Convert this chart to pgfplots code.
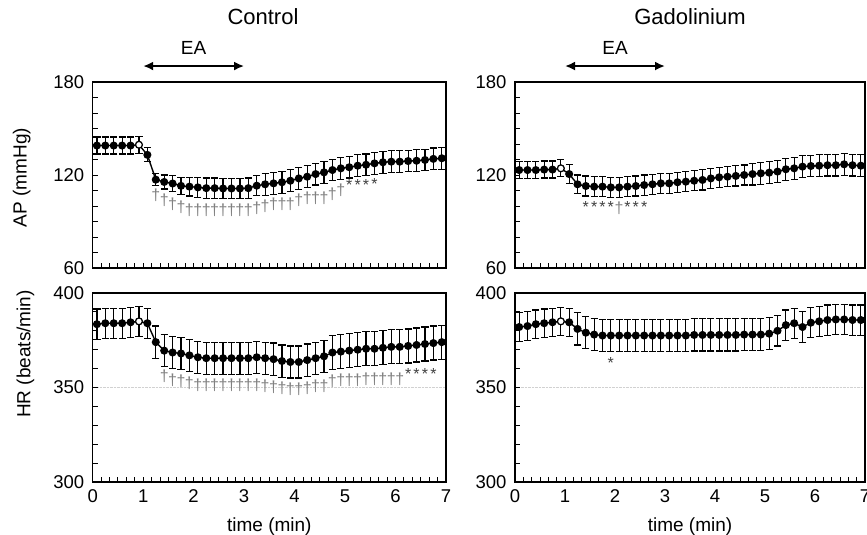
\documentclass[border=0pt]{standalone}
\usepackage{fontspec}
\setmainfont{Liberation Sans}
\usepackage{pgfplots}
\pgfplotsset{compat=1.18}
\usepackage{pgfplotstable}
\usetikzlibrary{arrows.meta}

\newcommand{\fTick}{\fontsize{18.5}{20}\selectfont}
\newcommand{\fLab}{\fontsize{19}{22}\selectfont}
\newcommand{\fTitle}{\fontsize{22}{24}\selectfont}
\newcommand{\fSym}{\fontsize{16}{16}\selectfont}

% mean and SE every 10 s (x in min)
\pgfplotstableread{
x y e
0.0833 139 5.5
0.25 139 5.5
0.4167 139 5.5
0.5833 139 5.5
0.75 139 5.5
0.9167 139.5 5.5
1.0833 133 4.5
1.25 117 4
1.4167 115.5 4.5
1.5833 114.5 5
1.75 113 5.5
1.9167 112.5 6
2.0833 112 6.5
2.25 111.5 6.5
2.4167 111.5 6.5
2.5833 111.3 6.5
2.75 111.3 6.5
2.9167 111.3 6.5
3.0833 111.5 6.5
3.25 113.1 6.5
3.4167 114 7
3.5833 114.6 7
3.75 115.3 7
3.9167 116.3 7
4.0833 117.8 7
4.25 118.9 7
4.4167 120.6 7
4.5833 121.7 7
4.75 123.2 7
4.9167 124.3 7
5.0833 125 7
5.25 126 7
5.4167 126.6 7
5.5833 127.5 7
5.75 128.2 7
5.9167 128.6 7
6.0833 128.6 7
6.25 129 7
6.4167 129.2 7
6.5833 129.7 7
6.75 130.4 7
6.9167 130.8 7
}\apctrl

\pgfplotstableread{
x y e
0.0833 383.5 8
0.25 384 8
0.4167 384 8
0.5833 384 8
0.75 384.5 8
0.9167 385 8
1.0833 384 8
1.25 374 8.5
1.4167 369.5 8.5
1.5833 368.5 8.5
1.75 368 8.5
1.9167 367 8.5
2.0833 366 8.5
2.25 365.5 8.5
2.4167 365.5 8.5
2.5833 365.5 8.5
2.75 365.5 8.5
2.9167 365.5 8.5
3.0833 365.5 8.5
3.25 366 8.5
3.4167 365.5 8.5
3.5833 365 8.5
3.75 364 8.5
3.9167 363.5 8.5
4.0833 363.5 8.5
4.25 364.5 8.5
4.4167 365.5 8.5
4.5833 366.5 8.5
4.75 368.5 9
4.9167 369 9
5.0833 369.5 9
5.25 370 9
5.4167 370.5 9
5.5833 370.5 9
5.75 371 9
5.9167 371.5 9
6.0833 371.5 9
6.25 372 9
6.4167 372.5 9
6.5833 373 9
6.75 373.5 9
6.9167 374 9
}\hrctrl

\pgfplotstableread{
x y e
0.0833 123.2 5.5
0.25 123.2 5.5
0.4167 123.2 5.5
0.5833 123.5 5.5
0.75 123.5 5.5
0.9167 124.3 5.5
1.0833 120.6 6
1.25 114 6
1.4167 112.9 6.5
1.5833 112.5 6.5
1.75 112.5 6.5
1.9167 112 6.5
2.0833 112 6.5
2.25 112.5 6.5
2.4167 112.9 6.5
2.5833 113.5 6.5
2.75 114 6.5
2.9167 114.6 6.5
3.0833 114.6 6.5
3.25 115.3 6.5
3.4167 115.7 6.5
3.5833 116.3 6.5
3.75 116.8 6.5
3.9167 117.8 6.5
4.0833 118.5 6.5
4.25 118.9 6.5
4.4167 119.4 6.5
4.5833 120 6.5
4.75 120.6 7
4.9167 121.1 7
5.0833 121.5 7
5.25 122.2 7
5.4167 123.7 7
5.5833 124.3 7
5.75 125.4 7
5.9167 125.8 7
6.0833 126 7
6.25 126.3 7
6.4167 126.3 7
6.5833 126.9 7
6.75 126.3 7
6.9167 126 7
}\apgd

\pgfplotstableread{
x y e
0.0833 382 7.5
0.25 382.5 7.5
0.4167 383.5 7.5
0.5833 384 7.5
0.75 384.5 7.5
0.9167 385 7.5
1.0833 384.5 7.5
1.25 381 8.5
1.4167 379 8.5
1.5833 378 8.5
1.75 377.5 8.5
1.9167 377.5 8.5
2.0833 377.5 8.5
2.25 377.5 8.5
2.4167 377.5 8.5
2.5833 377.5 8.5
2.75 377.5 8.5
2.9167 377.5 8.5
3.0833 377.5 8.5
3.25 377.5 8.5
3.4167 377.5 8.5
3.5833 377.8 8.5
3.75 377.8 8.5
3.9167 377.8 8.5
4.0833 377.8 8.5
4.25 377.8 8.5
4.4167 377.8 8.5
4.5833 378 8.5
4.75 378 8.5
4.9167 378 8.5
5.0833 378.5 8.5
5.25 380 8
5.4167 383 8
5.5833 384 8
5.75 382 8
5.9167 384.3 8
6.0833 385 8
6.25 385.7 8
6.4167 386 8
6.5833 386 8
6.75 385.7 8
6.9167 385.7 8
}\hrgd

\pgfplotsset{
  panel/.style={
    scale only axis, anchor=south west, clip=false,
    xmin=0, xmax=7, xtick={0,...,7}, minor x tick num=5,
    xtick pos=bottom, ytick pos=left, tick align=inside,
    major tick length=5pt, minor tick length=5pt,
    tick style={black, line width=0.9pt},
    axis line style={line width=1.1pt},
    tick label style={font=\fTick},
    /pgf/number format/assume math mode=true,
    yticklabel style={xshift=-5pt},
    xticklabel style={yshift=-4pt},
    label style={font=\fLab},
    title style={font=\fTitle, anchor=center},
  },
  ser/.style={black, line width=1.4pt, mark=*, mark size=3.3pt,
    mark options={solid, fill=black},
    error bars/y dir=both, error bars/y explicit,
    error bars/error bar style={line width=1.2pt},
    error bars/error mark options={rotate=90, line width=1.2pt, mark size=3.6pt}},
  open/.style={only marks, mark=*, mark size=3.3pt,
    mark options={fill=white, draw=black, line width=1pt}},
  dag/.style={only marks, mark=text, text mark={\dag}, text mark as node=true,
    text mark style={font=\fSym, text=black!50}},
  ast/.style={only marks, mark=text, text mark={*}, text mark as node=true,
    text mark style={font=\fSym, text=black!75}},
}

\begin{document}
\begin{tikzpicture}
\path[use as bounding box] (0pt,0pt) rectangle (867pt,535pt);

% AP, control
\begin{axis}[panel, at={(92.7pt,267pt)}, width=353.3pt, height=186pt,
  ymin=60, ymax=180, ytick={60,120,180}, minor y tick num=5,
  xticklabels={},
  ylabel={AP (mmHg)}, ylabel style={at={(axis description cs:-0.201,0.487)}, anchor=center},
  title={Control}, title style={at={(axis description cs:0.482,1.317)}}]
\addplot[ser] table[x=x, y=y, y error=e] {\apctrl};
\addplot[open] coordinates {(0.9167,139.5)};
\addplot[dag] coordinates {
(1.25,106.7) (1.4167,103.4) (1.5833,101.3) (1.75,99.1) (1.9167,97.4)
(2.0833,97.4) (2.25,97.4) (2.4167,97.4) (2.5833,97.4) (2.75,97.4)
(2.9167,97.4) (3.0833,97.4) (3.25,98.5) (3.4167,99.6) (3.5833,101.3)
(3.75,101.3) (3.9167,101.3) (4.0833,103.4) (4.25,105) (4.4167,105)
(4.5833,105) (4.75,107.7) (4.9167,110.3)};
\addplot[ast] coordinates {(5.0833,113.6) (5.25,113.6) (5.4167,113.8) (5.5833,114.3)};
\draw[{Latex[length=10pt,width=9pt]}-{Latex[length=10pt,width=9pt]}, line width=2.3pt]
  (axis cs:1,190.3) -- (axis cs:3,190.3);
\node[font=\fLab] at (axis cs:2,201.9) {EA};
\end{axis}

% HR, control
\begin{axis}[panel, at={(92.7pt,53pt)}, width=353.3pt, height=189pt,
  ymin=300, ymax=400, ytick={300,350,400}, minor y tick num=4,
  ymajorgrids, grid style={densely dotted, black!18, line width=0.5pt},
  xlabel={time (min)}, xlabel style={at={(axis description cs:0.5,-0.238)}, anchor=center},
  ylabel={HR (beats/min)}, ylabel style={at={(axis description cs:-0.19,0.677)}, anchor=center}]
\addplot[ser] table[x=x, y=y, y error=e] {\hrctrl};
\addplot[open] coordinates {(0.9167,385)};
\addplot[dag] coordinates {
(1.4167,355.7) (1.5833,354) (1.75,353.1) (1.9167,352.2) (2.0833,351.3)
(2.25,351.3) (2.4167,351.3) (2.5833,351.3) (2.75,351.3) (2.9167,351.3)
(3.0833,351.3) (3.25,351.3) (3.4167,350.8) (3.5833,350) (3.75,349.6)
(3.9167,349) (4.0833,349) (4.25,349.6) (4.4167,350.4) (4.5833,350.8)
(4.75,353.5) (4.9167,354) (5.0833,354) (5.25,354) (5.4167,354.3)
(5.5833,354.3) (5.75,354.3) (5.9167,354.3) (6.0833,354.3)};
\addplot[ast] coordinates {(6.25,357.4) (6.4167,357.4) (6.5833,357.4) (6.75,357.4)};
\end{axis}

% AP, gadolinium
\begin{axis}[panel, at={(515pt,267pt)}, width=350pt, height=186pt,
  ymin=60, ymax=180, ytick={60,120,180}, minor y tick num=5,
  xticklabels={},
  title={Gadolinium}, title style={at={(axis description cs:0.5,1.317)}}]
\addplot[ser] table[x=x, y=y, y error=e] {\apgd};
\addplot[open] coordinates {(0.9167,124.3)};
\addplot[ast] coordinates {(1.4167,99.6) (1.5833,99.6) (1.75,99.6) (1.9167,99.6)
  (2.25,99.6) (2.4167,99.6) (2.5833,99.6)};
\addplot[dag] coordinates {(2.0833,98.5)};
\draw[{Latex[length=10pt,width=9pt]}-{Latex[length=10pt,width=9pt]}, line width=2.3pt]
  (axis cs:1,190.3) -- (axis cs:3,190.3);
\node[font=\fLab] at (axis cs:2,201.9) {EA};
\end{axis}

% HR, gadolinium
\begin{axis}[panel, at={(515pt,53pt)}, width=350pt, height=189pt,
  ymin=300, ymax=400, ytick={300,350,400}, minor y tick num=4,
  ymajorgrids, grid style={densely dotted, black!18, line width=0.5pt},
  xlabel={time (min)}, xlabel style={at={(axis description cs:0.5,-0.238)}, anchor=center}]
\addplot[ser] table[x=x, y=y, y error=e] {\hrgd};
\addplot[open] coordinates {(0.9167,385)};
\addplot[ast] coordinates {(1.9167,362.7)};
\end{axis}
\end{tikzpicture}
\end{document}
